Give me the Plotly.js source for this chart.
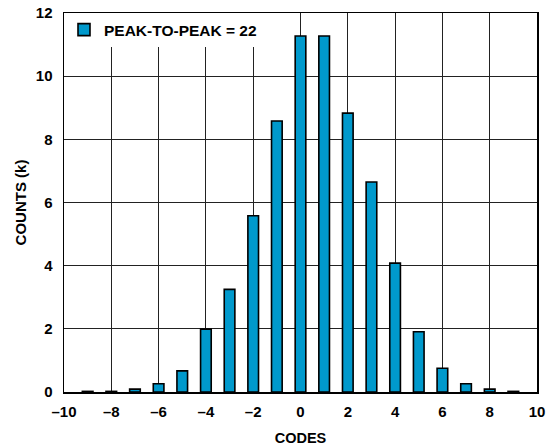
<!DOCTYPE html>
<html>
<head>
<meta charset="utf-8">
<script src="https://cdn.plot.ly/plotly-3.0.1.min.js"></script>
<style>html,body{margin:0;padding:0;background:#fff;}</style>
</head>
<body>
<div id="chart" style="width:558px;height:447px;"></div>
<script>
const codes = [-9, -8, -7, -6, -5, -4, -3, -2, -1, 0, 1, 2, 3, 4, 5, 6, 7, 8, 9];
const counts = [0.02, 0.02, 0.09, 0.26, 0.67, 1.99, 3.25, 5.58, 8.58, 11.27, 11.27, 8.83, 6.65, 4.08, 1.91, 0.75, 0.26, 0.09, 0.02];
const seriesName = 'PEAK-TO-PEAK = 22';
const xTicks = [-10, -8, -6, -4, -2, 0, 2, 4, 6, 8, 10];
const yTicks = [0, 2, 4, 6, 8, 10, 12];

const font = 'Liberation Sans, Arial, sans-serif';
const trace = {
  type: 'bar',
  x: codes,
  y: counts,
  name: seriesName,
  width: 0.45,
  marker: {color: '#0099CC', line: {color: '#000', width: 1.6}},
  showlegend: true
};
const layout = {
  width: 558, height: 447,
  margin: {l: 64, r: 21, t: 13, b: 55},
  paper_bgcolor: '#fff', plot_bgcolor: '#fff',
  font: {family: font, color: '#000', size: 15},
  showlegend: true,
  legend: {x: 0, y: 1, xanchor: 'left', yanchor: 'top', bgcolor: '#fff',
           font: {family: font, size: 15.5, weight: 'bold', color: '#000'},
           borderwidth: 0},
  xaxis: {range: [-10, 10], tickvals: xTicks, ticktext: xTicks.map(v => v < 0 ? '\u2013' + Math.abs(v) : String(v)),
          showgrid: true, gridcolor: '#222', gridwidth: 1, zeroline: false,
          showline: true, linecolor: '#000', linewidth: 1.5, mirror: true, ticks: '',
          ticklabelstandoff: 5,
          tickfont: {family: font, size: 15, weight: 'bold'},
          title: {text: 'CODES', font: {family: font, size: 14.5, weight: 'bold'}, standoff: 14}},
  yaxis: {range: [0, 12], tickvals: yTicks,
          showgrid: true, gridcolor: '#222', gridwidth: 1, zeroline: false,
          showline: true, linecolor: '#000', linewidth: 1.5, mirror: true, ticks: '',
          ticklabelstandoff: 7,
          tickfont: {family: font, size: 15, weight: 'bold'},
          title: {text: 'COUNTS (k)', font: {family: font, size: 15, weight: 'bold'}, standoff: 5}},
  bargap: 0
};
Plotly.newPlot('chart', [trace], layout, {displayModeBar: false, staticPlot: true});
</script>
</body>
</html>
